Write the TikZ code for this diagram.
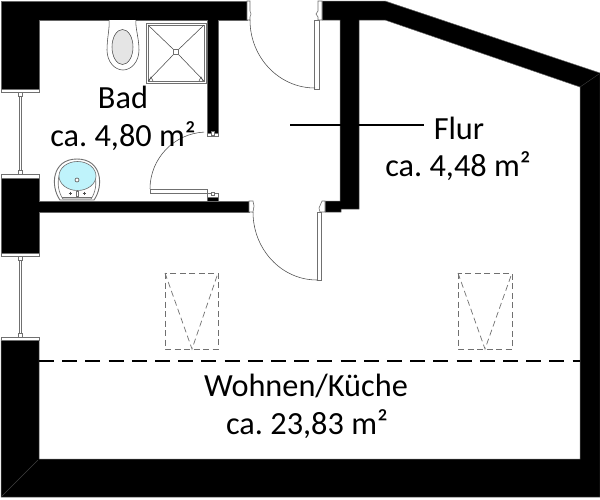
\documentclass[tikz,border=0pt]{standalone}
\usepackage{fontspec}
\setmainfont{Carlito}
\definecolor{sinkblue}{HTML}{BFF3FB}
\definecolor{fixture}{HTML}{707070}
\tikzset{
  wall/.style={fill=black,draw=black!60,line width=0.5pt,line join=miter},
  capbox/.style={fill=white,draw=fixture,line width=0.6pt},
  fineline/.style={draw=fixture,line width=0.6pt},
  finerline/.style={draw=black!70,line width=0.55pt},
  skylight/.style={draw=fixture,line width=0.7pt,dash pattern=on 6pt off 3.5pt},
  roomlabel/.style={font=\fontsize{32.3}{36}\selectfont,text=black,inner sep=0pt,anchor=center},
}
\begin{document}
\frenchspacing
\begin{tikzpicture}[x=1pt,y=-1pt]
\useasboundingbox (0,0) rectangle (600,499);
\fill[white] (0,0) rectangle (600,499);
% walls
\path[wall] (1,1) -- (247,1) -- (247,20) -- (218,20) -- (218,133) -- (207,133) -- (207,20) -- (39,20) -- (39,89) -- (1,89) -- cycle;
\path[wall] (1,178) -- (39,178) -- (39,201) -- (249,201) -- (249,212) -- (39,212) -- (39,253) -- (1,253) -- cycle;
\path[wall] (207,197) -- (218,197) -- (218,201) -- (207,201) -- cycle;
\path[wall] (322,1) -- (385,1) -- (600,73) -- (600,497) -- (1,497) -- (1,340) -- (39,340) -- (39,459) -- (580,459) -- (580,87) -- (385,20) -- (359,20) -- (359,209) -- (341,209) -- (341,212) -- (325,212) -- (325,201) -- (340,201) -- (340,20) -- (322,20) -- cycle;
\draw[draw=black!75,line width=0.4pt] (2,496) -- (38,460);
\draw[draw=black!75,line width=0.4pt] (580,87) -- (599,74);
% window caps and panes
\path[capbox] (1,89) rectangle (39,92);
\path[capbox] (1,174) rectangle (39,178);
\path[capbox] (1,253) rectangle (39,256);
\path[capbox] (1,337) rectangle (39,340);
\path[capbox] (18,92) rectangle (22,96);
\path[capbox] (18,170) rectangle (22,174);
\path[capbox] (18,256) rectangle (22,260);
\path[capbox] (18,333) rectangle (22,337);
\path[capbox] (19,96) rectangle (21,170);
\path[capbox] (19,260) rectangle (21,333);
% shower
\path[fineline,line width=0.9pt] (146,23) rectangle (206,83);
\path[fineline] (148,25) rectangle (204,81);
\path[finerline] (148,25) -- (173.5,49.5) (204,25) -- (178.5,49.5) (148,81) -- (173.5,54.5) (204,81) -- (178.5,54.5);
\path[capbox] (173.5,49.5) rectangle (178.5,54.5);
\path[finerline] (149,81) -- (151,77) -- (153,81) (199,81) -- (201,77) -- (203,81);
% toilet
\path[finerline,fill=white] (109,20) .. controls (110,27) and (107,38) .. (107,50) .. controls (107,62) and (115,70) .. (123,70) .. controls (131,70) and (139,62) .. (139,50) .. controls (139,38) and (135,27) .. (136,20);
\path[finerline,fill=black!10] (122.5,47) ellipse [x radius=10.5,y radius=17.5];
% sink
\path[fineline,line width=0.9pt,fill=white] (60,200) .. controls (50,186) and (52,159) .. (77,159) .. controls (102,159) and (104,186) .. (94,200) -- cycle;
\path[fineline,fill=white] (63,199) .. controls (54,186) and (57,162) .. (77,162) .. controls (97,162) and (100,186) .. (91,199) -- cycle;
\path[fineline,fill=sinkblue] (77.5,176) ellipse [x radius=18.5,y radius=14.5];
\path[fineline,fill=white,draw=black!70] (77,180) circle [radius=2];
\path[finerline] (68.5,193) -- (71.5,193) (70,191.5) -- (70,194.5) (82.5,193) -- (85.5,193) (84,191.5) -- (84,194.5);
\path[fineline] (76,191) rectangle (78,196);
\path[fineline] (62,197.5) -- (92,197.5);
% bathroom door
\path[capbox] (150,189) rectangle (207,193);
\draw[finerline] (150,189) arc [start angle=180,end angle=267,radius=57];
\path[capbox] (207,133) rectangle (218,136);
\path[capbox] (207,193) rectangle (218,197);
\path[capbox] (211,131) rectangle (214,135);
\path[capbox] (211,192) rectangle (214,195);
% top door
\path[capbox] (247,1) -- (250,1) -- (250,11) -- (251,14) -- (250,17) -- (250,20) -- (247,20) -- cycle;
\path[capbox] (322,1) -- (318,1) -- (318,11) -- (316,14) -- (318,17) -- (318,20) -- (322,20) -- cycle;
\path[capbox] (314,20) rectangle (319,89);
\draw[finerline] (250,20) arc [start angle=180,end angle=90,x radius=65,y radius=68];
% lower door
\path[capbox] (249,201) -- (253,201) -- (254,206) -- (253,212) -- (249,212) -- cycle;
\path[capbox] (325,201) -- (322,201) -- (319,208) -- (320,212) -- (325,212) -- cycle;
\path[capbox] (317,212) rectangle (321,280);
\draw[finerline] (253,212) arc [start angle=180,end angle=90,x radius=64,y radius=68];
% skylights
\path[skylight] (165,273) rectangle (218,349);
\path[skylight] (165,273) -- (192,349) -- (218,273);
\path[skylight] (458,273) rectangle (512,349);
\path[skylight] (458,273) -- (485,349) -- (512,273);
% roof line
\draw[line width=2pt,dash pattern=on 15pt off 8.2pt] (39,361) -- (580,361);
% labels
\node[roomlabel] (bad) at (123,97) {Bad};
\node[roomlabel] (badarea) at (123,136) {ca. 4,80 m²};
\node[roomlabel] (flur) at (459,128) {Flur};
\node[roomlabel] (flurarea) at (458,166) {ca. 4,48 m²};
\node[roomlabel] (wohnen) at (306,386) {Wohnen/Küche};
\node[roomlabel] (wohnenarea) at (307,424) {ca. 23,83 m²};
\coordinate (flurtip) at (290,125);
\coordinate (flurend) at (424,125);
\draw[black,line width=1.3pt] (flurtip) -- (flurend);
\end{tikzpicture}
\end{document}
